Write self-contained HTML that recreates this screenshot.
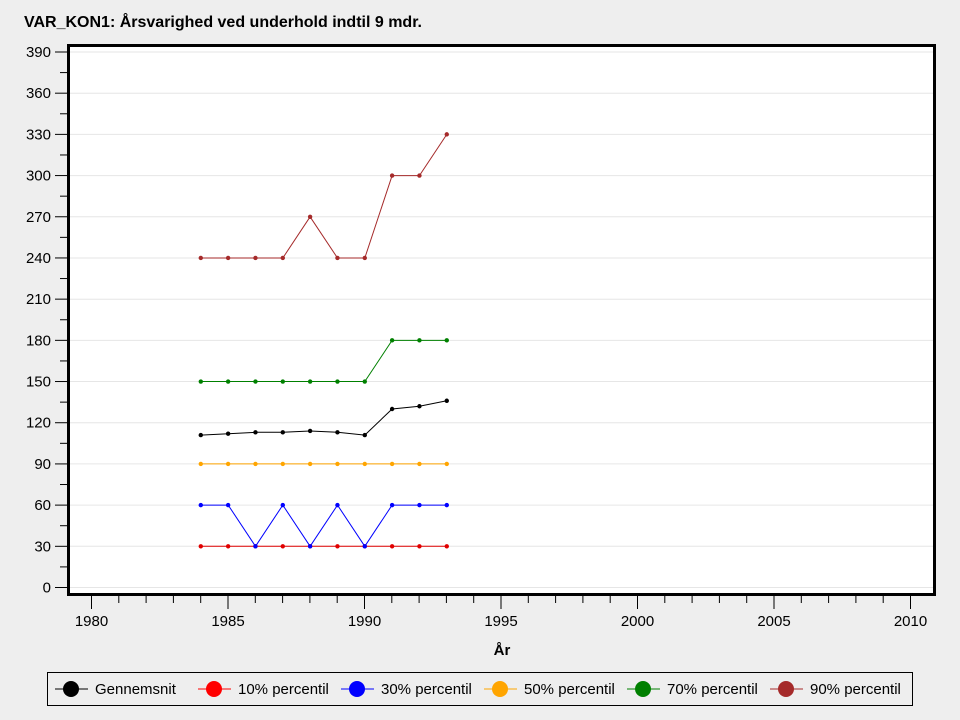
<!DOCTYPE html>
<html><head><meta charset="utf-8"><style>body{margin:0;background:#eeeeee}svg{display:block}text{font-family:"Liberation Sans",sans-serif;font-size:15px}</style></head><body>
<svg width="960" height="720" xmlns="http://www.w3.org/2000/svg">
<rect width="960" height="720" fill="#eeeeee"/>
<text x="24" y="27" font-weight="bold" style="font-size:16px">VAR_KON1: Årsvarighed ved underhold indtil 9 mdr.</text>
<rect x="68.5" y="45.5" width="866" height="549" fill="#fff"/>
<g stroke="#e6e6e6" stroke-width="1">
<line x1="70" x2="933" y1="587.5" y2="587.5"/><line x1="70" x2="933" y1="546.3" y2="546.3"/><line x1="70" x2="933" y1="505.1" y2="505.1"/><line x1="70" x2="933" y1="463.9" y2="463.9"/><line x1="70" x2="933" y1="422.7" y2="422.7"/><line x1="70" x2="933" y1="381.5" y2="381.5"/><line x1="70" x2="933" y1="340.4" y2="340.4"/><line x1="70" x2="933" y1="299.2" y2="299.2"/><line x1="70" x2="933" y1="258" y2="258"/><line x1="70" x2="933" y1="216.8" y2="216.8"/><line x1="70" x2="933" y1="175.6" y2="175.6"/><line x1="70" x2="933" y1="134.4" y2="134.4"/><line x1="70" x2="933" y1="93.2" y2="93.2"/><line x1="70" x2="933" y1="52" y2="52"/>
</g>
<rect x="68.5" y="45.5" width="866" height="549" fill="none" stroke="#000" stroke-width="3"/>
<g stroke="#000" stroke-width="1" id="yt"></g>
<g text-anchor="end" id="yl"></g>
<g id="xt" stroke="#000"></g>
<g id="xl" text-anchor="middle"></g>
<text x="502" y="655" font-weight="bold" text-anchor="middle">År</text>
<g fill="none" stroke-width="1">
<polyline stroke="#e00000" points="200.8,546.3 228.2,546.3 255.5,546.3 282.8,546.3 310.1,546.3 337.5,546.3 364.8,546.3 392.1,546.3 419.4,546.3 446.8,546.3"/>
<polyline stroke="#0000ff" points="200.8,505.1 228.2,505.1 255.5,546.3 282.8,505.1 310.1,546.3 337.5,505.1 364.8,546.3 392.1,505.1 419.4,505.1 446.8,505.1"/>
<polyline stroke="#ffa500" points="200.8,463.9 446.8,463.9"/>
<polyline stroke="#000" points="200.8,435.1 228.2,433.7 255.5,432.3 282.8,432.3 310.1,431 337.5,432.3 364.8,435.1 392.1,409 419.4,406.3 446.8,400.8"/>
<polyline stroke="#008000" points="200.8,381.5 228.2,381.5 255.5,381.5 282.8,381.5 310.1,381.5 337.5,381.5 364.8,381.5 392.1,340.4 419.4,340.4 446.8,340.4"/>
<polyline stroke="#a52a2a" points="200.8,258 228.2,258 255.5,258 282.8,258 310.1,216.8 337.5,258 364.8,258 392.1,175.6 419.4,175.6 446.8,134.4"/>
</g>
<g id="pts"></g>
<rect x="47.5" y="672.5" width="865" height="33" fill="none" stroke="#000"/>
<g id="leg"></g>
<script>
var ns="http://www.w3.org/2000/svg";function el(p,t,a,tx){var e=document.createElementNS(ns,t);for(var k in a)e.setAttribute(k,a[k]);if(tx!=null)e.textContent=tx;document.getElementById(p).appendChild(e);}
for(var i=0;i<=26;i++){var y=587.5-i*15*1.3731;var maj=i%2==0;el('yt','line',{x1:maj?55:60,x2:67,y1:y,y2:y});if(maj)el('yl','text',{x:51,y:y+5},String(i*15));}
for(var yr=1980;yr<=2010;yr++){var x=91.5+27.3*(yr-1980);var maj=yr%5==0;el('xt','line',{x1:x,x2:x,y1:596,y2:maj?609:603});if(maj)el('xl','text',{x:x,y:626},String(yr));}
var ser=[["#e00000",[30,30,30,30,30,30,30,30,30,30]],["#0000ff",[60,60,30,60,30,60,30,60,60,60]],["#ffa500",[90,90,90,90,90,90,90,90,90,90]],["#000",[111,112,113,113,114,113,111,130,132,136]],["#008000",[150,150,150,150,150,150,150,180,180,180]],["#a52a2a",[240,240,240,240,270,240,240,300,300,330]]];
ser.forEach(function(s){s[1].forEach(function(v,j){el('pts','circle',{cx:200.8+27.33*j,cy:587.5-1.3731*v,r:2.2,fill:s[0]});});});
var L=[["#000","Gennemsnit"],["#ff0000","10% percentil"],["#0000ff","30% percentil"],["#ffa500","50% percentil"],["#008000","70% percentil"],["#a52a2a","90% percentil"]];
L.forEach(function(l,i){var c=71+143*i;el('leg','line',{x1:c-16,x2:c+17,y1:689,y2:689,stroke:l[0]});el('leg','circle',{cx:c,cy:689,r:8,fill:l[0]});el('leg','text',{x:c+24,y:694},l[1]);});
</script>
</svg>
</body></html>
